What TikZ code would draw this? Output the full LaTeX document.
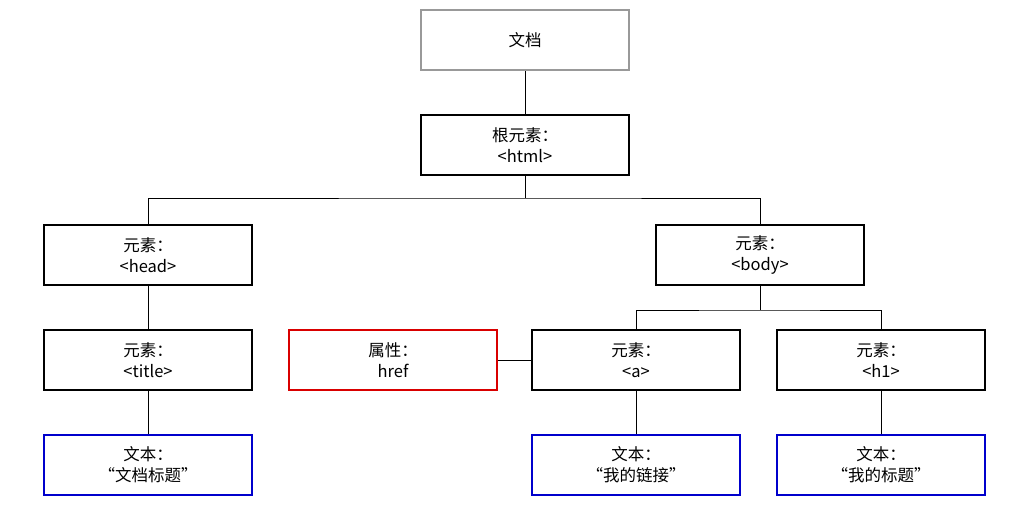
\documentclass[tikz,border=0pt]{standalone}
\usepackage{fontspec}
\setmainfont{Noto Sans CJK SC}
\begin{document}
\begin{tikzpicture}[x=1pt,y=-1pt,
 box/.style={draw=black,line width=1.3pt,minimum width=208pt,minimum height=60pt,inner sep=0pt,align=center,font=\fontsize{16.5}{21}\selectfont,fill=white},
 doc/.style={box,draw=gray!80,line width=2.5pt},
 attr/.style={box,draw=red!85!black},
 txt/.style={box,draw=blue!80!black},
 ln/.style={line width=1pt}]
\useasboundingbox (0,0) rectangle (1010,522);
\node[doc] (doc) at (525,40) {文档};
\node[box] (html) at (525,145) {根元素：\\<html>};
\node[box] (head) at (148,255) {元素：\\<head>};
\node[box] (body) at (760,255) {元素：\\<body>};
\node[box] (title) at (148,360) {元素：\\<title>};
\node[attr] (href) at (393,360) {属性：\\href};
\node[box] (a) at (636,360) {元素：\\<a>};
\node[box] (h1) at (881,360) {元素：\\<h1>};
\node[txt] (t1) at (148,465) {文本：\\“文档标题”};
\node[txt] (t2) at (636,465) {文本：\\“我的链接”};
\node[txt] (t3) at (881,465) {文本：\\“我的标题”};
\coordinate (j1) at (525,198);
\coordinate (j2) at (760,310);
\draw[ln] (doc) -- (html);
\draw[ln] (html) -- (j1);
\draw[ln] (head.north) |- (j1) -| (body.north);
\draw[ln] (body) -- (j2);
\draw[ln] (a.north) |- (j2) -| (h1.north);
\draw[ln] (head) -- (title);
\draw[ln] (title) -- (t1);
\draw[ln] (a) -- (t2);
\draw[ln] (h1) -- (t3);
\draw[ln] (href) -- (a);
\end{tikzpicture}
\end{document}
